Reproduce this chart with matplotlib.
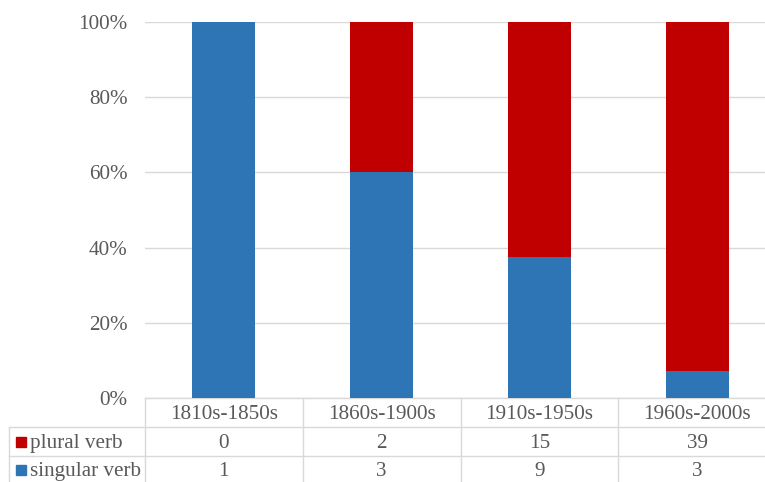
import numpy as np
import matplotlib
matplotlib.use("Agg")
import matplotlib.pyplot as plt
import matplotlib.transforms as mtransforms

periods = ["1810s-1850s", "1860s-1900s", "1910s-1950s", "1960s-2000s"]
plural_verb = [0, 2, 15, 39]
singular_verb = [1, 3, 9, 3]
y_ticks = [0, 0.2, 0.4, 0.6, 0.8, 1.0]

BLUE = "#2E75B6"
RED = "#C00000"
GRID = "#D9D9D9"
TEXT = "#595959"

plt.rcParams["font.family"] = ["Liberation Serif", "DejaVu Serif"]
FS = 15.2

fig = plt.figure(figsize=(7.65, 4.82), dpi=100)
# plot area runs slightly past the right edge, like the original export
ax = fig.add_axes([145 / 765, 84.2 / 482, 631 / 765, 375.5 / 482])

singular = np.array(singular_verb, dtype=float)
plural = np.array(plural_verb, dtype=float)
total = singular + plural
sing_share = singular / total
plur_share = plural / total

x = np.arange(len(periods))
ax.bar(x, sing_share, width=0.4, color=BLUE, zorder=3)
ax.bar(x, plur_share, width=0.4, bottom=sing_share, color=RED, zorder=3)

ax.set_xlim(-0.5, len(periods) - 0.5)
ax.set_ylim(0, 1)
ax.set_yticks(y_ticks)
ax.set_yticklabels([f"{int(round(t * 100))}%" for t in y_ticks])
ax.yaxis.grid(True, color=GRID, linewidth=1, zorder=0)
ax.tick_params(axis="y", length=0, pad=12.5, labelsize=FS, labelcolor=TEXT)
ax.set_xticks([])
for s in ax.spines.values():
    s.set_visible(False)

# data table under the plot
trans = mtransforms.blended_transform_factory(ax.transData, ax.transAxes)
px_x = 1 / 157.7      # one pixel in x data units
px_y = 1 / 375.5      # one pixel in axes-fraction units
rows = [0, -29.5 * px_y, -58.2 * px_y, -87 * px_y]
left_col = -0.5 - 136 * px_x
right_end = len(periods) - 0.5

line_kw = dict(color=GRID, linewidth=1, transform=trans, clip_on=False)
ax.plot([-0.5, right_end], [rows[0], rows[0]], **line_kw)
for r in rows[1:]:
    ax.plot([left_col, right_end], [r, r], **line_kw)
ax.plot([left_col, left_col], [rows[1], rows[3]], **line_kw)
for i in range(len(periods) + 1):
    xe = i - 0.5
    ax.plot([xe, xe], [rows[0], rows[3]], **line_kw)

def row_mid(k):
    return (rows[k] + rows[k + 1]) / 2 - 1.5 * px_y

for i, p in enumerate(periods):
    ax.text(i, row_mid(0), p, ha="center", va="center", fontsize=FS,
            color=TEXT, transform=trans)
    ax.text(i, row_mid(1), str(plural_verb[i]), ha="center", va="center",
            fontsize=FS, color=TEXT, transform=trans)
    ax.text(i, row_mid(2), str(singular_verb[i]), ha="center", va="center",
            fontsize=FS, color=TEXT, transform=trans)

for k, (name, col) in enumerate([("plural verb", RED), ("singular verb", BLUE)]):
    ym = row_mid(k + 1)
    ax.plot([-0.5 - 124 * px_x], [ym + 1.5 * px_y], marker="s", ms=7.2,
            color=col, transform=trans, clip_on=False, linestyle="none")
    ax.text(-0.5 - 115 * px_x, ym, name, ha="left", va="center", fontsize=FS,
            color=TEXT, transform=trans)

fig.savefig("out.png", dpi=100)
